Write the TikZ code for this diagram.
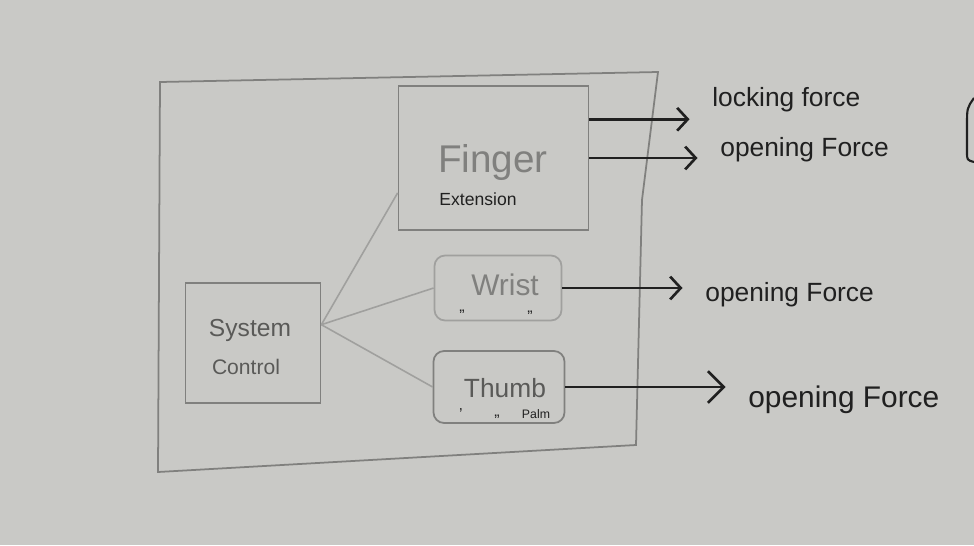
\documentclass[tikz,border=0pt]{standalone}
\usepackage{fontspec}
\setmainfont{Liberation Sans}
\usetikzlibrary{arrows.meta}
\definecolor{board}{RGB}{201,201,198}
\definecolor{pencil}{RGB}{128,128,126}
\definecolor{faint}{RGB}{160,160,158}
\definecolor{marker}{RGB}{32,32,32}
\tikzset{
  part/.style={draw=pencil, line width=1pt},
  link/.style={draw=faint, line width=0.9pt},
  force/.style={draw=marker, line width=1.5pt, shorten >=0.45cm, -{Straight Barb[length=6pt,width=13pt,line width=1.5pt]}},
  hand/.style={text=marker, anchor=west, inner sep=0pt, font=\fontsize{15}{15}\selectfont},
  grey/.style={text=pencil, inner sep=0pt},
  small/.style={text=marker, inner sep=0pt, font=\fontsize{9}{9}\selectfont}
}
\begin{document}
\begin{tikzpicture}[x=0.02cm, y=-0.02cm]
   \fill[board] (0,0) rectangle (974,545);
   \useasboundingbox (0,0) rectangle (974,545);
   \draw[part] (160,82) -- (658,72) -- (642,200) -- (636,445) -- (158,472) -- cycle;
   \node[part, minimum width=3.8cm, minimum height=2.88cm] (finger) at (493.5,158) {};
   \node[part, draw=faint, rounded corners=6pt, minimum width=2.54cm, minimum height=1.3cm] (wrist) at (498,288) {};
   \node[part, rounded corners=6pt, minimum width=2.62cm, minimum height=1.44cm] (thumb) at (499,387) {};
   \node[part, minimum width=2.7cm, minimum height=2.4cm] (system) at (253,343) {};
   \node[grey, font=\fontsize{22}{22}\selectfont] (fingername) at (493,163) {Finger};
   \node[small, font=\fontsize{10}{10}\selectfont] (extension) at (478,199) {Extension};
   \node[grey, font=\fontsize{17}{17}\selectfont] (wristname) at (505,285) {Wrist};
   \node[small] (wristd1) at (462,312) {„};
   \node[small] (wristd2) at (530,313) {„};
   \node[grey, text=pencil!70!black, font=\fontsize{15}{15}\selectfont] (thumbname) at (505,388) {Thumb};
   \node[small] (thumbd1) at (461,414) {'};
   \node[small] (thumbd2) at (497,417) {„};
   \node[small, font=\fontsize{7}{7}\selectfont] (palm) at (536,414) {Palm};
   \node[grey, text=pencil!70!black, font=\fontsize{14}{14}\selectfont] (systemname) at (250,330) {System};
   \node[grey, text=pencil!70!black, font=\fontsize{12}{12}\selectfont] (controlname) at (246,367) {Control};
   \draw[link] (system.15) -- (finger.200);
   \draw[link] (system.15) -- (wrist.west);
   \draw[link] (system.15) -- (thumb.west);
   \node[hand] (locking) at (712,100) {locking force};
   \node[hand] (fingeropen) at (720,150) {opening Force};
   \node[hand] (wristopen) at (705,295) {opening Force};
   \node[hand, font=\fontsize{17}{17}\selectfont] (thumbopen) at (748,400) {opening Force};
   \draw[force] (finger.22) -- (finger.22 -| locking.west);
   \draw[force] (finger.east) -- (finger.east -| fingeropen.west);
   \draw[force] (wrist.east) -- (wrist.east -| wristopen.west);
   \draw[force, -{Straight Barb[length=9pt,width=18pt,line width=1.5pt]}] (thumb.east) -- (thumb.east -| thumbopen.west);
   \draw[draw=marker, line width=1.2pt] (974,98) .. controls (967,108) .. (967,125) -- (967,152) .. controls (967,160) .. (974,162);
\end{tikzpicture}
\end{document}
